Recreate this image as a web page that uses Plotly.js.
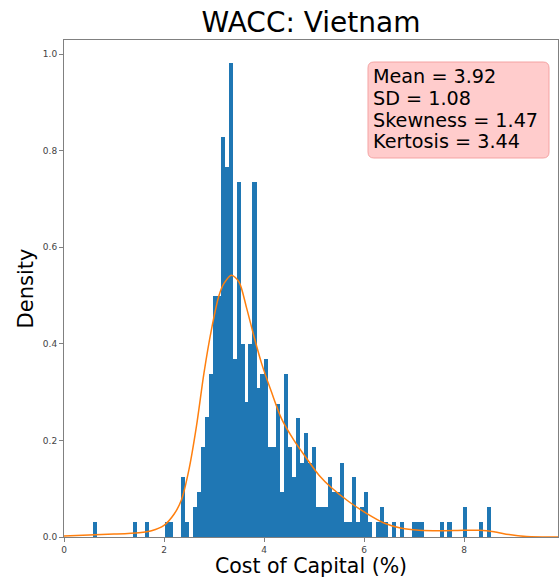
<!DOCTYPE html>
<html>
<head>
<meta charset="utf-8">
<script src="https://cdn.plot.ly/plotly-3.0.1.min.js"></script>
<style>html,body{margin:0;padding:0;background:#fff;}#chart{width:559px;height:578px;}</style>
</head>
<body>
<div id="chart"></div>
<script>
// Histogram bins (centres, % cost of capital) and their densities
const binCenters = [0.626, 1.422, 1.661, 2.059, 2.138, 2.377, 2.457, 2.616, 2.696, 2.775,
  2.855, 2.934, 3.014, 3.094, 3.173, 3.253, 3.332, 3.412, 3.491, 3.571,
  3.651, 3.730, 3.810, 3.889, 3.969, 4.049, 4.128, 4.208, 4.287, 4.367,
  4.447, 4.526, 4.606, 4.685, 4.765, 4.845, 4.924, 5.004, 5.083, 5.163,
  5.243, 5.322, 5.402, 5.481, 5.561, 5.641, 5.720, 5.800, 5.879, 5.959,
  6.039, 6.118, 6.277, 6.357, 6.437, 6.596, 6.755, 6.994, 7.073, 7.153,
  7.551, 7.710, 8.029, 8.347, 8.506];
const densities = [0.031, 0.031, 0.031, 0.031, 0.031, 0.124, 0.031, 0.062, 0.093, 0.186,
  0.248, 0.338, 0.500, 0.500, 0.828, 0.767, 0.981, 0.369, 0.735, 0.400,
  0.279, 0.400, 0.735, 0.308, 0.338, 0.369, 0.187, 0.187, 0.276, 0.093,
  0.338, 0.186, 0.124, 0.246, 0.154, 0.215, 0.154, 0.186, 0.062, 0.062,
  0.062, 0.124, 0.093, 0.093, 0.154, 0.031, 0.031, 0.124, 0.031, 0.062,
  0.093, 0.031, 0.031, 0.062, 0.031, 0.031, 0.031, 0.031, 0.031, 0.031,
  0.031, 0.031, 0.062, 0.031, 0.062];
const binWidth = 0.081;

// Kernel density estimate curve
const kdeX = [0, 0.5, 1.0, 1.5, 1.75, 2.0, 2.2, 2.35, 2.5, 2.65, 2.8, 2.95, 3.1, 3.2, 3.35,
  3.5, 3.65, 3.8, 3.95, 4.15, 4.35, 4.6, 4.85, 5.1, 5.35, 5.7, 6.05, 6.4, 6.75, 7.1,
  7.5, 8.0, 8.3, 8.6, 8.9, 9.25, 9.9];
const kdeY = [0.002, 0.004, 0.006, 0.009, 0.013, 0.024, 0.047, 0.077, 0.14, 0.23, 0.34, 0.43, 0.50, 0.525, 0.542,
  0.528, 0.475, 0.415, 0.36, 0.30, 0.245, 0.20, 0.163, 0.128, 0.102, 0.073, 0.049, 0.029, 0.018, 0.014,
  0.013, 0.014, 0.014, 0.011, 0.005, 0.001, 0.0];

const statsLines = ["Mean = 3.92", "SD = 1.08", "Skewness = 1.47", "Kertosis = 3.44"];

const font = "DejaVu Sans, Liberation Sans, sans-serif";

const traces = [
  {
    type: "bar", x: binCenters, y: densities, width: binWidth,
    marker: {color: "#1f77b4", line: {width: 0}},
    hoverinfo: "x+y", showlegend: false
  },
  {
    type: "scatter", mode: "lines", x: kdeX, y: kdeY,
    line: {color: "#ff7f0e", width: 1.5, shape: "spline", smoothing: 0.8},
    showlegend: false
  }
];

const axisCommon = {
  showline: true, linecolor: "#808080", linewidth: 1, mirror: true,
  ticks: "outside", ticklen: 4, tickcolor: "#808080", tickwidth: 1,
  showgrid: false, zeroline: false,
  tickfont: {family: font, size: 9, color: "#444"}
};

// stats box geometry (paper coordinates)
const bx0 = 0.6154, bx1 = 0.9818, by0 = 0.7626, by1 = 0.9557, rx = 0.012, ry = 0.012;
const boxPath = `M ${bx0 + rx} ${by1} L ${bx1 - rx} ${by1} Q ${bx1} ${by1} ${bx1} ${by1 - ry} ` +
  `L ${bx1} ${by0 + ry} Q ${bx1} ${by0} ${bx1 - rx} ${by0} L ${bx0 + rx} ${by0} ` +
  `Q ${bx0} ${by0} ${bx0} ${by0 + ry} L ${bx0} ${by1 - ry} Q ${bx0} ${by1} ${bx0 + rx} ${by1} Z`;
const lineY = [0.9256, 0.8823, 0.8380, 0.7948];

const layout = {
  width: 559, height: 578,
  margin: {l: 64, r: 1, t: 40, b: 41},
  paper_bgcolor: "#fff", plot_bgcolor: "#fff",
  bargap: 0,
  title: {text: "WACC: Vietnam", font: {family: font, size: 28, color: "#000"},
    x: 0.5, xref: "paper", y: 1 - 22 / 578, yref: "container", yanchor: "middle"},
  xaxis: Object.assign({}, axisCommon, {
    range: [0, 9.88], dtick: 2, tick0: 0,
    title: {text: "Cost of Capital (%)", font: {family: font, size: 20.5, color: "#000"}, standoff: 8}
  }),
  yaxis: Object.assign({}, axisCommon, {
    range: [0, 1.029], dtick: 0.2, tick0: 0, tickformat: ".1f",
    title: {text: "Density", font: {family: font, size: 21, color: "#000"}, standoff: 3}
  }),
  shapes: [{
    type: "path", xref: "paper", yref: "paper", path: boxPath,
    fillcolor: "#ffcccc", line: {color: "#f4a3a3", width: 1}, layer: "above"
  }],
  annotations: statsLines.map((t, i) => ({
    xref: "paper", yref: "paper", x: 0.6214, y: lineY[i], xanchor: "left", yanchor: "middle",
    text: t, align: "left", showarrow: false,
    font: {family: font, size: 19.2, color: "#000"}
  }))
};

Plotly.newPlot("chart", traces, layout, {displayModeBar: false, staticPlot: true});
</script>
</body>
</html>
